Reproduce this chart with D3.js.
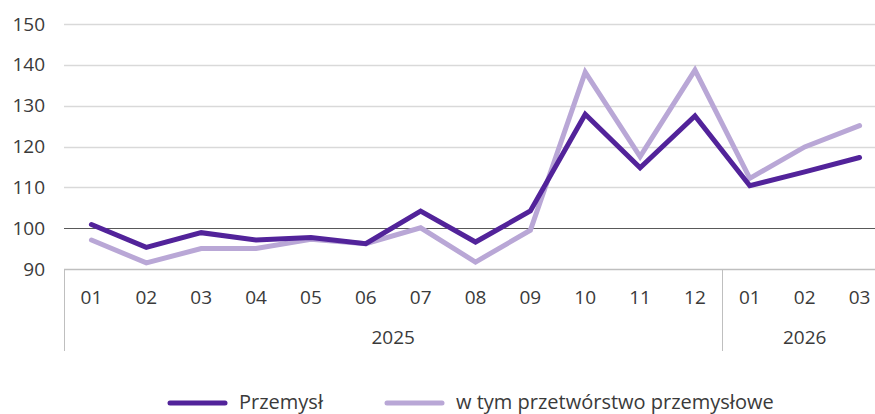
<!DOCTYPE html>
<html>
<head>
<meta charset="utf-8">
<script src="https://cdn.jsdelivr.net/npm/d3@7"></script>
<style>
  body { margin: 0; background: #fff; }
  svg { display: block; font-family: "Open Sans", sans-serif; }
</style>
</head>
<body>
<div id="chart"></div>
<script>
// chart data
const months = ["01", "02", "03", "04", "05", "06", "07", "08", "09", "10", "11", "12", "01", "02", "03"];
const years = [
  { label: "2025", from: 0, to: 12 },
  { label: "2026", from: 12, to: 15 },
];
const przemysl = [100.9, 95.3, 98.9, 97.1, 97.7, 96.2, 104.2, 96.6, 104.2, 127.9, 114.8, 127.5, 110.4, 113.8, 117.3];
const przetworstwo = [97.1, 91.5, 95.0, 95.0, 97.3, 96.2, 100.1, 91.7, 99.5, 138.2, 117.5, 138.7, 112.2, 119.9, 125.1];
const yTicks = [90, 100, 110, 120, 130, 140, 150];

const series = [
  { name: "Przemysł", values: przemysl, color: "#52239a" },
  { name: "w tym przetwórstwo przemysłowe", values: przetworstwo, color: "#b9a7d6" },
];

const width = 875;
const height = 414;
const left = 64;
const right = 887;

const svg = d3
  .select("#chart")
  .append("svg")
  .attr("width", width)
  .attr("height", height);

const x = d3.scaleBand().domain(d3.range(months.length)).range([left, right]);
const y = d3.scaleLinear().domain([90, 150]).range([269, 24]);

// gridlines
svg
  .append("g")
  .selectAll("line")
  .data(yTicks)
  .enter()
  .append("line")
  .attr("x1", left)
  .attr("x2", width)
  .attr("y1", (d) => Math.round(y(d)) + 0.5)
  .attr("y2", (d) => Math.round(y(d)) + 0.5)
  .attr("stroke", (d) => (d === 100 ? "#595959" : d === 90 ? "#bfbfbf" : "#d9d9d9"))
  .attr("stroke-width", (d) => (d === 100 ? 1.2 : 1.5));

// y tick labels
svg
  .append("g")
  .selectAll("text")
  .data(yTicks)
  .enter()
  .append("text")
  .attr("x", 45)
  .attr("y", (d) => y(d))
  .attr("dy", "0.35em")
  .attr("text-anchor", "end")
  .attr("font-size", 19)
  .attr("fill", "#3a3a3a")
  .text((d) => d);

// category axis: month labels, year labels, separators
const axisTop = y(90);
const sepX = [left].concat(years.slice(1).map((yr) => x(yr.from)));

svg
  .append("g")
  .selectAll("line")
  .data(sepX)
  .enter()
  .append("line")
  .attr("x1", (d) => Math.round(d) + 0.5)
  .attr("x2", (d) => Math.round(d) + 0.5)
  .attr("y1", axisTop)
  .attr("y2", 351)
  .attr("stroke", "#bfbfbf")
  .attr("stroke-width", 1);

svg
  .append("g")
  .selectAll("text")
  .data(months)
  .enter()
  .append("text")
  .attr("x", (d, i) => x(i) + x.bandwidth() / 2)
  .attr("y", 297)
  .attr("dy", "0.35em")
  .attr("text-anchor", "middle")
  .attr("font-size", 19)
  .attr("fill", "#3a3a3a")
  .text((d) => d);

svg
  .append("g")
  .selectAll("text")
  .data(years)
  .enter()
  .append("text")
  .attr("x", (d) => (x(d.from) + (d.to < months.length ? x(d.to) : right)) / 2)
  .attr("y", 337)
  .attr("dy", "0.35em")
  .attr("text-anchor", "middle")
  .attr("font-size", 19)
  .attr("fill", "#3a3a3a")
  .text((d) => d.label);

// lines
const line = d3
  .line()
  .x((d, i) => x(i) + x.bandwidth() / 2)
  .y((d) => y(d));

svg
  .append("g")
  .selectAll("path")
  .data(series.slice().reverse())
  .enter()
  .append("path")
  .attr("d", (d) => line(d.values))
  .attr("fill", "none")
  .attr("stroke", (d) => d.color)
  .attr("stroke-width", 5)
  .attr("stroke-linejoin", "miter")
  .attr("stroke-linecap", "round");

// legend
const legendPos = [170, 387];
const legend = svg
  .append("g")
  .selectAll("g")
  .data(series)
  .enter()
  .append("g")
  .attr("transform", (d, i) => `translate(${legendPos[i]}, 403)`);

legend
  .append("line")
  .attr("x1", 0)
  .attr("x2", 55)
  .attr("stroke", (d) => d.color)
  .attr("stroke-width", 5)
  .attr("stroke-linecap", "round");

legend
  .append("text")
  .attr("x", 69)
  .attr("dy", "0.3em")
  .attr("font-size", 20)
  .attr("fill", "#3a3a3a")
  .text((d) => d.name);
</script>
</body>
</html>
